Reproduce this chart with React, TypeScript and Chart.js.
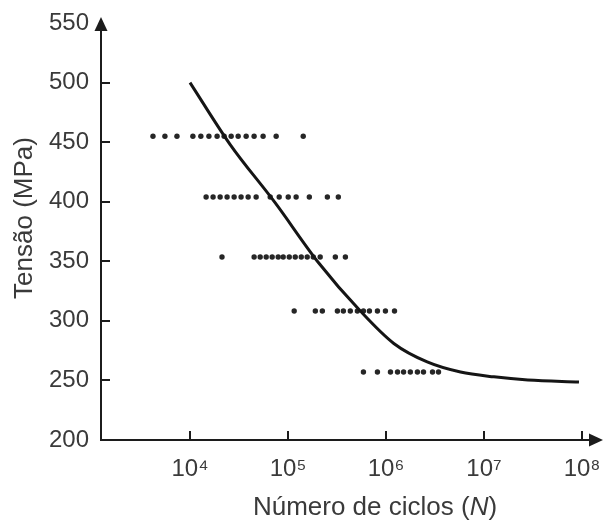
import React, { useEffect, useRef } from "react";
import { Chart, registerables } from "chart.js";

Chart.register(...registerables);

// ---- data ----
const yTickValues = [200, 250, 300, 350, 400, 450, 500, 550];
const xTickValues = [1e4, 1e5, 1e6, 1e7, 1e8];
const yTitle = "Tensão (MPa)";
const xTitleMain = "Número de ciclos (";
const xTitleVar = "N";
const xTitleEnd = ")";

// fitted S-N curve (cycles, stress MPa)
const curveN = [10000, 25700, 74100, 204000, 550000, 1200000, 2630000, 5750000, 12600000, 28000000, 93000000];
const curveStress = [500, 448, 399, 349, 308, 281, 265.5, 257, 253, 250.4, 248.7];

// test data rows
const rowAStress = 455;
const rowAN = [4190, 5550, 7360, 10700, 12900, 15600, 18900, 22300, 26300, 31000, 37400, 45100, 55700, 75700, 143000];
const rowBStress = 404;
const rowBN = [14600, 17200, 20300, 23900, 28200, 33200, 39200, 47300, 65800, 81300, 100500, 121000, 165000, 252000, 326000];
const rowCStress = 353.6;
const rowCN = [21200, 45100, 52000, 59900, 68900, 79400, 89300, 103000, 118500, 136500, 157000, 181000, 213000, 304000, 385000];
const rowDStress = 308.3;
const rowDN = [115600, 190000, 224000, 319000, 367000, 432000, 510000, 588000, 677000, 817000, 986000, 1220000];
const rowEStress = 257.1;
const rowEN = [588000, 817000, 1110000, 1310000, 1510000, 1770000, 2090000, 2410000, 2980000, 3430000];

const X_MIN = 1236;
const X_MAX = 1.42e8;
const Y_MIN = 200;
const Y_MAX = 550;

const AXIS_COLOR = "#1c1c1c";
const TEXT_COLOR = "#3a3a3a";
const DOT_COLOR = "#262626";
const FONT = "'Liberation Sans', Arial, Helvetica, sans-serif";

const SUP: Record<string, string> = {
  "0": "\u2070", "1": "\u00b9", "2": "\u00b2", "3": "\u00b3", "4": "\u2074",
  "5": "\u2075", "6": "\u2076", "7": "\u2077", "8": "\u2078", "9": "\u2079",
};

const toPoints = (ns: number[], s: number) => ns.map((n) => ({ x: n, y: s }));

const decorPlugin = {
  id: "decor",
  afterDraw(chart: any) {
    const { ctx, chartArea: a, scales } = chart;
    const xs = scales.x;
    const ys = scales.y;
    ctx.save();
    ctx.strokeStyle = AXIS_COLOR;
    ctx.fillStyle = AXIS_COLOR;
    ctx.lineWidth = 2;
    // inward tick marks
    ys.ticks.forEach((t: any) => {
      if (t.value === Y_MIN || t.value === Y_MAX) return;
      const py = Math.round(ys.getPixelForValue(t.value));
      ctx.beginPath();
      ctx.moveTo(a.left, py);
      ctx.lineTo(a.left + 9, py);
      ctx.stroke();
    });
    xs.ticks.forEach((t: any) => {
      const px = Math.round(xs.getPixelForValue(t.value));
      ctx.beginPath();
      ctx.moveTo(px, a.bottom);
      ctx.lineTo(px, a.bottom - 9);
      ctx.stroke();
    });
    // arrows
    const lx = Math.round(a.left);
    ctx.beginPath();
    ctx.moveTo(lx, a.top - 6);
    ctx.lineTo(lx - 6.5, a.top + 8);
    ctx.lineTo(lx + 6.5, a.top + 8);
    ctx.closePath();
    ctx.fill();
    const by = Math.round(a.bottom);
    ctx.beginPath();
    ctx.moveTo(a.right + 6, by);
    ctx.lineTo(a.right - 8, by - 6.5);
    ctx.lineTo(a.right - 8, by + 6.5);
    ctx.closePath();
    ctx.fill();

    // axis titles
    ctx.fillStyle = TEXT_COLOR;
    ctx.textBaseline = "middle";
    ctx.font = `26px ${FONT}`;
    ctx.save();
    ctx.translate(a.left - 76, a.top + 195);
    ctx.rotate(-Math.PI / 2);
    ctx.textAlign = "center";
    ctx.fillText(yTitle, 0, 0);
    ctx.restore();

    const normal = `26px ${FONT}`;
    const italic = `italic 26px ${FONT}`;
    ctx.font = normal;
    const w1 = ctx.measureText(xTitleMain).width;
    const w3 = ctx.measureText(xTitleEnd).width;
    ctx.font = italic;
    const w2 = ctx.measureText(xTitleVar).width;
    const total = w1 + w2 + w3;
    const cx = a.left + 274;
    const cy = a.bottom + 68;
    let x0 = cx - total / 2;
    ctx.textAlign = "left";
    ctx.font = normal;
    ctx.fillText(xTitleMain, x0, cy);
    x0 += w1;
    ctx.font = italic;
    ctx.fillText(xTitleVar, x0, cy);
    x0 += w2;
    ctx.font = normal;
    ctx.fillText(xTitleEnd, x0, cy);
    ctx.restore();
  },
};

export default function App() {
  const canvasRef = useRef<HTMLCanvasElement | null>(null);

  useEffect(() => {
    const canvas = canvasRef.current;
    if (!canvas) return;
    const dotStyle = {
      type: "scatter" as const,
      pointRadius: 2.7,
      pointBackgroundColor: DOT_COLOR,
      pointBorderWidth: 0,
      showLine: false,
    };
    const chart = new Chart(canvas, {
      type: "scatter",
      data: {
        datasets: [
          {
            type: "line",
            data: curveN.map((n, i) => ({ x: n, y: curveStress[i] })),
            borderColor: "#151515",
            borderWidth: 3,
            pointRadius: 0,
            fill: false,
            cubicInterpolationMode: "monotone",
          } as any,
          { ...dotStyle, data: toPoints(rowAN, rowAStress) },
          { ...dotStyle, data: toPoints(rowBN, rowBStress) },
          { ...dotStyle, data: toPoints(rowCN, rowCStress) },
          { ...dotStyle, data: toPoints(rowDN, rowDStress) },
          { ...dotStyle, data: toPoints(rowEN, rowEStress) },
        ],
      },
      options: {
        animation: false,
        responsive: false,
        devicePixelRatio: 1,
        layout: { padding: { top: 23, right: 9, bottom: 0, left: 0 } },
        plugins: { legend: { display: false }, tooltip: { enabled: false } },
        scales: {
          x: {
            type: "logarithmic",
            min: X_MIN,
            max: X_MAX,
            afterBuildTicks: (scale: any) => {
              scale.ticks = xTickValues.map((v) => ({ value: v }));
            },
            afterFit: (scale: any) => {
              scale.height = 80;
              scale.paddingLeft = 0;
              scale.paddingRight = 0;
            },
            grid: { display: false, drawTicks: false },
            border: { display: true, color: AXIS_COLOR, width: 2 },
            ticks: {
              padding: 15,
              maxRotation: 0,
              autoSkip: false,
              color: TEXT_COLOR,
              font: { family: FONT, size: 24 },
              callback: (v: any) => {
                const e = String(Math.round(Math.log10(Number(v))));
                return "10" + e.split("").map((c) => SUP[c]).join("");
              },
            },
          },
          y: {
            type: "linear",
            min: Y_MIN,
            max: Y_MAX,
            afterBuildTicks: (scale: any) => {
              scale.ticks = yTickValues.map((v) => ({ value: v }));
            },
            afterFit: (scale: any) => {
              scale.width = 101;
              scale.paddingTop = 0;
              scale.paddingBottom = 0;
            },
            grid: { display: false, drawTicks: false },
            border: { display: true, color: AXIS_COLOR, width: 2 },
            ticks: {
              padding: 12,
              autoSkip: false,
              color: TEXT_COLOR,
              font: { family: FONT, size: 24 },
            },
          },
        },
      },
      plugins: [decorPlugin],
    });
    return () => chart.destroy();
  }, []);

  return (
    <div style={{ position: "fixed", left: 0, top: 0, width: 606, height: 520, background: "#fff" }}>
      <canvas ref={canvasRef} width={606} height={520} style={{ display: "block" }} />
    </div>
  );
}
